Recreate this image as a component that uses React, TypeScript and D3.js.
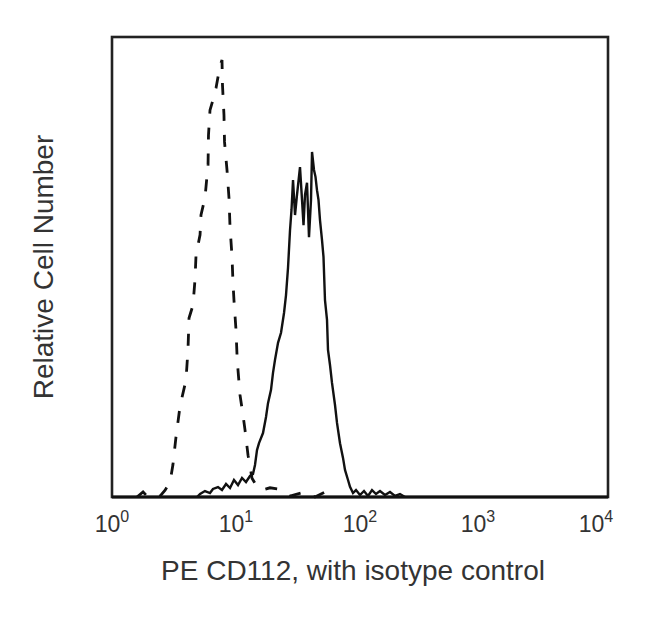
import React from "react";
import * as d3 from "d3";

// Isotype control (dashed): fluorescence intensity, relative count
const isoX = [1.59, 1.78, 1.95, 2.44, 2.68, 2.94, 3.10, 3.28, 3.54, 3.95, 4.10, 4.18, 4.50, 4.67, 4.76, 5.13, 5.22, 5.62, 5.95, 6.00, 6.17, 6.52, 6.90, 7.43, 7.71, 7.78, 8.00, 8.08, 8.46, 8.78, 8.95, 9.28, 9.46, 9.63, 10.0, 10.19, 10.38, 10.77, 11.39, 11.82, 12.50, 13.46, 14.50, 16.20, 18.80, 22.63, 27.26, 36.02, 43.37, 52.20, 62.87];
const isoY = [0, 1.1, 0, 0.2, 1.5, 3.3, 7.0, 13.0, 19.8, 25.4, 32.0, 38.9, 41.7, 47.2, 52.6, 57.0, 61.3, 65.0, 72.2, 78.7, 84.1, 86.3, 88.9, 93.7, 95.0, 89.6, 83.0, 77.2, 71.1, 65.0, 58.7, 52.4, 46.5, 42.8, 36.3, 30.9, 27.6, 22.2, 17.8, 14.6, 9.1, 4.1, 2.6, 1.5, 2.0, 1.7, 0.2, 1.1, 0, 1.1, 0.2];

// PE CD112 (solid)
const cdX = [4.85, 5.13, 5.62, 6.17, 6.52, 7.16, 7.71, 8.31, 8.95, 9.63, 10.38, 11.18, 12.04, 12.97, 13.71, 14.23, 14.77, 15.33, 16.51, 17.46, 18.12, 19.16, 19.88, 20.63, 21.82, 23.07, 24.39, 25.31, 26.27, 27.26, 28.03, 28.83, 29.92, 31.04, 32.82, 34.07, 35.03, 36.02, 37.38, 38.79, 40.26, 41.03, 42.56, 43.77, 45.00, 46.27, 47.58, 49.37, 50.77, 52.20, 54.19, 55.20, 57.29, 59.46, 62.87, 65.25, 68.99, 72.95, 75.69, 80.04, 83.07, 87.80, 92.83, 100, 107.7, 116.0, 125.0, 134.6, 145.0, 159.1, 174.5, 191.6, 210.2, 230.7];
const cdY = [0, 0.65, 1.3, 0.87, 1.74, 2.17, 1.52, 2.83, 1.96, 3.7, 2.6, 4.13, 3.26, 4.57, 5.0, 6.96, 10.2, 11.7, 13.9, 17.4, 20.4, 23.3, 27.0, 29.8, 33.5, 35.7, 40.0, 43.9, 49.8, 58.0, 62.4, 68.9, 61.3, 65.7, 71.7, 64.6, 59.1, 65.7, 68.3, 56.5, 64.6, 75.0, 71.1, 69.6, 66.7, 64.6, 60.2, 55.9, 52.2, 42.8, 38.5, 32.0, 28.7, 24.8, 20.0, 16.1, 11.7, 8.5, 5.9, 3.7, 2.2, 0.87, 1.5, 0.43, 1.3, 0.22, 1.5, 0.65, 1.3, 0.43, 1.1, 0.22, 0.65, 0];

const tickValues = [1, 10, 100, 1000, 10000];
const tickExps = ["0", "1", "2", "3", "4"];
const xTitle = "PE CD112, with isotype control";
const yTitle = "Relative Cell Number";

export default function App() {
  const left = 112, right = 608, top = 37, bottom = 497;
  const x = d3.scaleLog().domain([1, 10000]).range([left, right]);
  const y = d3.scaleLinear().domain([0, 100]).range([bottom, top]);
  const line = d3
    .line<[number, number]>()
    .x((d) => x(d[0]))
    .y((d) => y(d[1]));
  const iso = isoX.map((v, i) => [v, isoY[i]] as [number, number]);
  const cd = cdX.map((v, i) => [v, cdY[i]] as [number, number]);
  const nudges = [0, 0, 0, -6, -12];
  const font = "Liberation Sans, Arial, Helvetica, sans-serif";

  return (
    <svg
      width={650}
      height={622}
      style={{ position: "absolute", left: 0, top: 0, background: "#fff" }}
    >
      <path d={line(iso) || ""} fill="none" stroke="#111" strokeWidth={2.8} strokeDasharray="12,14" />
      <path d={line(cd) || ""} fill="none" stroke="#111" strokeWidth={2.4} strokeLinejoin="miter" />
      <rect
        x={left}
        y={top}
        width={right - left}
        height={bottom - top}
        fill="none"
        stroke="#222"
        strokeWidth={2.6}
      />
      <line x1={left} x2={right} y1={bottom} y2={bottom} stroke="#111" strokeWidth={3.2} />
      {tickValues.map((t, i) => (
        <text
          key={t}
          x={x(t) + nudges[i]}
          y={532}
          textAnchor="middle"
          fontFamily={font}
          fontSize={23}
          fill="#333"
        >
          10
          <tspan dy={-10} fontSize={16}>
            {tickExps[i]}
          </tspan>
        </text>
      ))}
      <text
        x={353}
        y={580}
        textAnchor="middle"
        fontFamily={font}
        fontSize={28}
        fill="#333"
      >
        {xTitle}
      </text>
      <text
        transform="translate(53,267) rotate(-90)"
        textAnchor="middle"
        fontFamily={font}
        fontSize={28}
        fill="#333"
      >
        {yTitle}
      </text>
    </svg>
  );
}
